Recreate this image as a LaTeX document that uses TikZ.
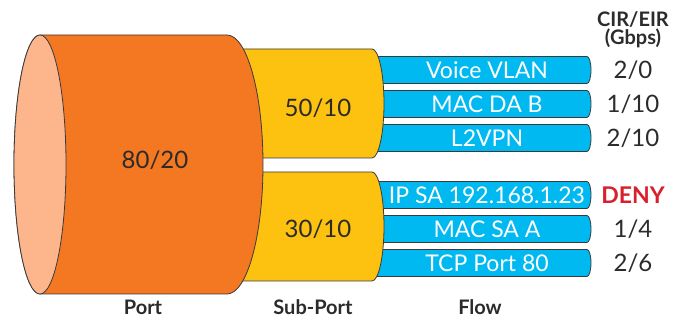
\documentclass[tikz,border=0pt]{standalone}
\usepackage{fontspec}
\setmainfont{Lato}
\definecolor{portorange}{HTML}{F47721}
\definecolor{portpeach}{HTML}{FDB68B}
\definecolor{subyellow}{HTML}{FDC110}
\definecolor{flowblue}{HTML}{00B9F1}
\definecolor{linegray}{HTML}{3A3A3A}
\definecolor{textgray}{HTML}{2B2B2B}
\definecolor{denyred}{HTML}{DA1F2C}
\tikzset{
  outline/.style     = {draw=linegray, line width=0.8pt},
  portbody/.style    = {outline, fill=portorange},
  portface/.style    = {outline, fill=portpeach},
  subportbody/.style = {outline, fill=subyellow},
  flowbar/.style     = {outline, fill=flowblue},
  ratetext/.style    = {inner sep=0pt, text=textgray,
                        font=\fontsize{24}{24}\selectfont},
  flowtext/.style    = {inner sep=0pt, text=white,
                        font=\fontsize{23}{23}\selectfont},
  captiontext/.style = {inner sep=0pt, text=textgray,
                        font=\bfseries\fontsize{20}{20}\selectfont},
  denytext/.style    = {inner sep=0pt, text=denyred,
                        font=\bfseries\fontsize{23}{23}\selectfont}
}

\begin{document}
\begin{tikzpicture}[x=1pt, y=1pt]
  \useasboundingbox (0,0) rectangle (683,320);

  % flows
  \draw [flowbar] (372,263.5) -- (587,263.5) arc[start angle=90, end angle=-90, x radius=4, y radius=13.5] -- (372,236.5) -- cycle;
  \draw [flowbar] (372,229.5) -- (587,229.5) arc[start angle=90, end angle=-90, x radius=4, y radius=13.5] -- (372,202.5) -- cycle;
  \draw [flowbar] (372,195.5) -- (587,195.5) arc[start angle=90, end angle=-90, x radius=4, y radius=13.5] -- (372,168.5) -- cycle;
  \draw [flowbar] (372,138.5) -- (587,138.5) arc[start angle=90, end angle=-90, x radius=4, y radius=13.5] -- (372,111.5) -- cycle;
  \draw [flowbar] (372,104.5) -- (587,104.5) arc[start angle=90, end angle=-90, x radius=4, y radius=13.5] -- (372,77.5) -- cycle;
  \draw [flowbar] (372,70.5) -- (587,70.5) arc[start angle=90, end angle=-90, x radius=4, y radius=13.5] -- (372,43.5) -- cycle;

  % sub-ports
  \draw [subportbody] (230,271) -- (372,271) arc[start angle=90, end angle=-90, x radius=12, y radius=54.5] -- (230,162) -- cycle;
  \draw [subportbody] (230,148) -- (372,148) arc[start angle=90, end angle=-90, x radius=12, y radius=54.5] -- (230,39) -- cycle;

  % port
  \draw [portbody] (40,285) -- (227,285) arc[start angle=90, end angle=-90, x radius=36, y radius=129.5] -- (40,26) arc[start angle=270, end angle=90, x radius=26, y radius=129.5] -- cycle;
  \draw [portface] (40,155.5) ellipse[x radius=26, y radius=129.5];

  \node [ratetext] (port)  at (155,160) {80/20};
  \node [ratetext] (subA)  at (318,212) {50/10};
  \node [ratetext] (subB)  at (318,91)  {30/10};

  \node [flowtext] (voice) at (487,250) {Voice VLAN};
  \node [flowtext] (macda) at (487,216) {MAC DA B};
  \node [flowtext] (l2vpn) at (487,182) {L2VPN};
  \node [flowtext] (ipsa)  at (487,125) {IP SA 192.168.1.23};
  \node [flowtext] (macsa) at (487,91)  {MAC SA A};
  \node [flowtext] (tcp)   at (487,57)  {TCP Port 80};

  \node [captiontext] (rates) at (633,300.5) {CIR/EIR};
  \node [captiontext] (gbps)  at (633,281.5) {(Gbps)};
  \node [ratetext] (rvoice) at (633,250) {2/0};
  \node [ratetext] (rmacda) at (633,216) {1/10};
  \node [ratetext] (rl2vpn) at (633,182) {2/10};
  \node [denytext] (ripsa)  at (633,125) {DENY};
  \node [ratetext] (rmacsa) at (633,91)  {1/4};
  \node [ratetext] (rtcp)   at (633,57)  {2/6};

  \node [captiontext] (portlbl) at (143,13) {Port};
  \node [captiontext] (sublbl)  at (313,13) {Sub-Port};
  \node [captiontext] (flowlbl) at (480,13) {Flow};
\end{tikzpicture}
\end{document}
